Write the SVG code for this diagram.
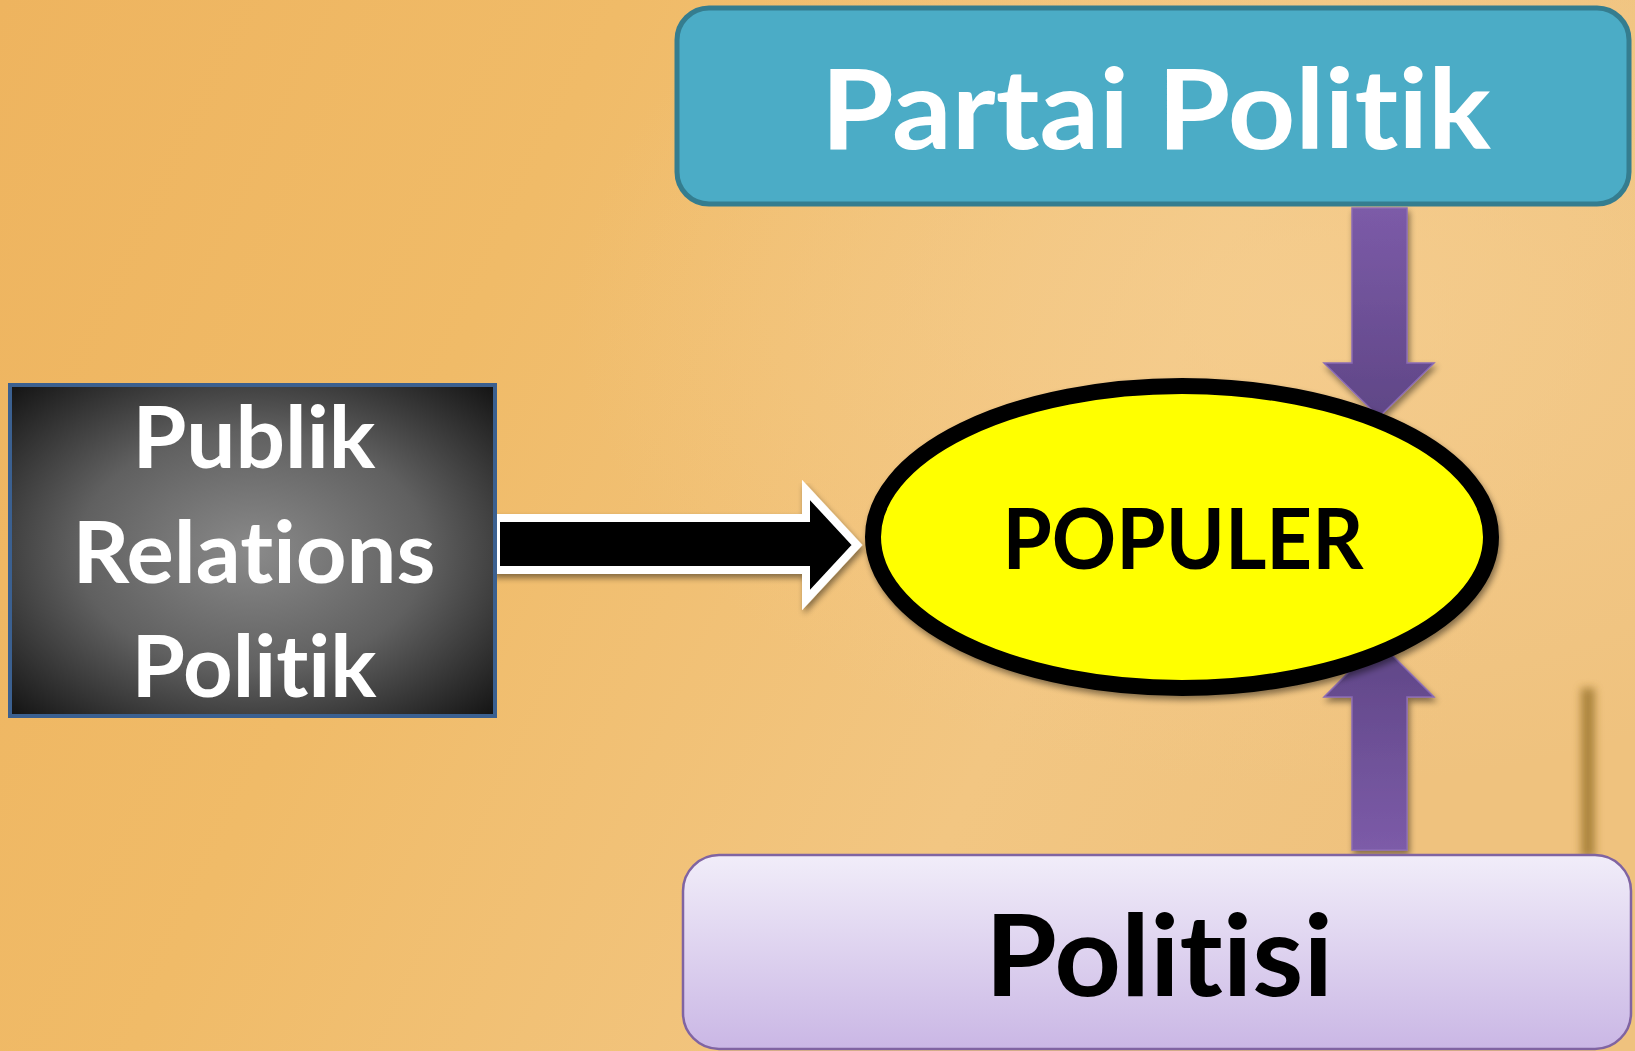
<svg xmlns="http://www.w3.org/2000/svg" width="1635" height="1051" viewBox="0 0 1635 1051">
  <defs>
    <linearGradient id="bg" x1="0" y1="0" x2="1" y2="0.3">
      <stop offset="0" stop-color="#eeb45f"/>
      <stop offset="0.35" stop-color="#f0bb68"/>
      <stop offset="0.75" stop-color="#f2c682"/>
      <stop offset="1" stop-color="#efc27e"/>
    </linearGradient>
    <radialGradient id="bglight" cx="0.8" cy="0.3" r="0.45">
      <stop offset="0" stop-color="#f6cf92" stop-opacity="0.7"/>
      <stop offset="1" stop-color="#f6cf92" stop-opacity="0"/>
    </radialGradient>
    <radialGradient id="dark" cx="0.5" cy="0.5" r="0.72">
      <stop offset="0" stop-color="#8a8a8a"/>
      <stop offset="0.5" stop-color="#606060"/>
      <stop offset="1" stop-color="#101010"/>
    </radialGradient>
    <linearGradient id="lilac" x1="0" y1="0" x2="0" y2="1">
      <stop offset="0" stop-color="#f1edf9"/>
      <stop offset="1" stop-color="#cab7e5"/>
    </linearGradient>
    <linearGradient id="purpleDown" x1="0" y1="0" x2="0" y2="1">
      <stop offset="0" stop-color="#7c5ba8"/>
      <stop offset="1" stop-color="#5f4686"/>
    </linearGradient>
    <linearGradient id="purpleUp" x1="0" y1="1" x2="0" y2="0">
      <stop offset="0" stop-color="#7c5ba8"/>
      <stop offset="1" stop-color="#5f4686"/>
    </linearGradient>
    <filter id="shadow" x="-10%" y="-10%" width="125%" height="130%">
      <feGaussianBlur in="SourceAlpha" stdDeviation="3"/>
      <feOffset dx="2" dy="4" result="b"/>
      <feComponentTransfer><feFuncA type="linear" slope="0.45"/></feComponentTransfer>
      <feMerge><feMergeNode/><feMergeNode in="SourceGraphic"/></feMerge>
    </filter>
    <filter id="blur" x="-200%" y="-20%" width="500%" height="140%"><feGaussianBlur stdDeviation="4"/></filter>
    <style>
      .t { font-family: Lato, "Open Sans", "Liberation Sans", sans-serif; font-weight: bold; text-anchor: middle; font-variant-ligatures: none; font-feature-settings: "liga" 0, "clig" 0; }
      .white { fill: #ffffff; }
      .black { fill: #000000; }
    </style>
  </defs>

  <rect x="0" y="0" width="1635" height="1051" fill="url(#bg)"/>
  <rect x="0" y="0" width="1635" height="1051" fill="url(#bglight)"/>
  <rect x="1581" y="688" width="14" height="170" fill="#8f6a22" opacity="0.7" filter="url(#blur)"/>

  <g id="connectors">
    <path id="arrow-pr" d="M496 518 H806 V490 L857 545 L806 600 V570 H496 Z" fill="#000000" stroke="#ffffff" stroke-width="8" stroke-linejoin="miter" filter="url(#shadow)"/>
    <path id="arrow-partai" d="M1352 208 H1407 V363 H1434 L1379 417 L1324 363 H1352 Z" fill="url(#purpleDown)" stroke="#8a6bb5" stroke-width="1.5" filter="url(#shadow)"/>
    <path id="arrow-politisi" d="M1352 850 H1407 V697 H1434 L1379 642 L1324 697 H1352 Z" fill="url(#purpleUp)" stroke="#8a6bb5" stroke-width="1.5" filter="url(#shadow)"/>
  </g>

  <g id="node-partai">
    <rect x="677" y="8" width="952" height="196" rx="32" ry="32" fill="#4bacc6" stroke="#357d8f" stroke-width="5"/>
    <text class="t white" x="1156" y="149" font-size="112" textLength="670" lengthAdjust="spacingAndGlyphs">Partai Politik</text>
  </g>

  <g id="node-pr">
    <rect x="10" y="385" width="485" height="331" fill="url(#dark)" stroke="#3b6090" stroke-width="4"/>
    <text class="t white" x="254" y="468" font-size="86" textLength="243" lengthAdjust="spacingAndGlyphs">Publik</text>
    <text class="t white" x="254" y="583" font-size="86" textLength="363" lengthAdjust="spacingAndGlyphs">Relations</text>
    <text class="t white" x="254" y="697" font-size="86" textLength="245" lengthAdjust="spacingAndGlyphs">Politik</text>
  </g>

  <g id="node-populer">
    <ellipse cx="1182" cy="537" rx="309" ry="151" fill="#ffff00" stroke="#000000" stroke-width="16" filter="url(#shadow)"/>
    <text class="t black" x="1183" y="569" font-size="84" textLength="361" lengthAdjust="spacingAndGlyphs">POPULER</text>
  </g>

  <g id="node-politisi">
    <rect x="683" y="855" width="948" height="194" rx="36" ry="36" fill="url(#lilac)" stroke="#8064a2" stroke-width="2.5"/>
    <text class="t black" x="1159" y="996" font-size="113" textLength="348" lengthAdjust="spacingAndGlyphs">Politisi</text>
  </g>
</svg>
